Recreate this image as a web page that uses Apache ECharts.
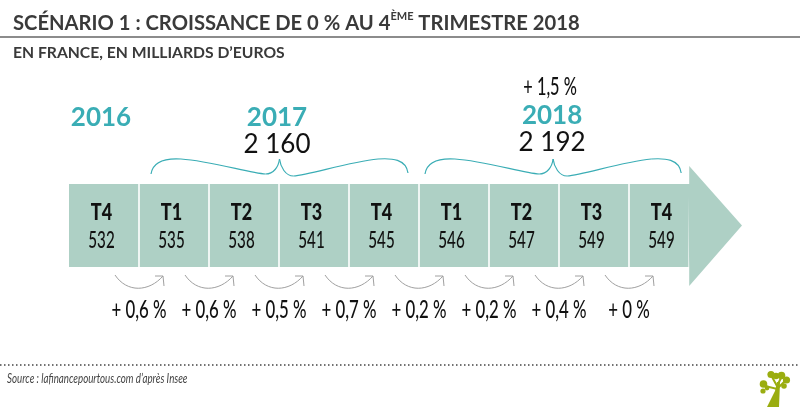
<!DOCTYPE html>
<html>
<head>
<meta charset="utf-8">
<style>
  html, body { margin: 0; padding: 0; background: #fff; }
  #chart { width: 800px; height: 407px; }
</style>
<script src="https://cdn.jsdelivr.net/npm/echarts@6/dist/echarts.min.js"></script>
</head>
<body>
<div id="chart"></div>
<script>
// données
const quarters = ['T4', 'T1', 'T2', 'T3', 'T4', 'T1', 'T2', 'T3', 'T4']
const gdpValues = [532, 535, 538, 541, 545, 546, 547, 549, 549]
const growthRates = ['0,6', '0,6', '0,5', '0,7', '0,2', '0,2', '0,4', '0']
const years = ['2016', '2017', '2018']
const yearTotals = ['', '2 160', '2 192']
const yearGrowth = ['', '', '+ 1,5 %']
const yearFirstQuarter = [0, 1, 5]
const yearLastQuarter = [0, 4, 8]

const BODY = '#aed0c5'
const TEAL = '#3aadb5'
const DARK = '#3a3a3a'
const GREEN = '#9aad10'
const LAST_EDGE = 8.36 // fin du corps de la flèche, en unités de trimestre

// pas de police étroite installée : on resserre le Lato avec scaleX
function text(str, x, y, font, fill, scaleX) {
  return {
    type: 'text', silent: true, x, y, scaleX: scaleX || 1,
    style: { text: str, x: 0, y: 0, font: font + ' Lato', fill: fill || '#111', align: 'center', verticalAlign: 'middle' }
  }
}

function renderCell(params, api) {
  const i = params.dataIndex
  const right = i === quarters.length - 1 ? LAST_EDGE : i + 0.5
  const a = api.coord([i - 0.5, 1])
  const b = api.coord([right, 0])
  const cx = api.coord([i, 0])[0] - 2.5
  const top = a[1]
  return {
    type: 'group',
    children: [
      { type: 'rect', shape: { x: a[0] + (i ? 0.8 : 0), y: top, width: b[0] - a[0] - (i ? 1.6 : 0.8), height: b[1] - top }, style: { fill: BODY } },
      text(quarters[i], cx, top + 29, '900 22px', '#111', 0.82),
      text(String(api.value(2)), cx, top + 57, '500 23px', '#111', 0.66)
    ]
  }
}

function renderHead(params, api) {
  const p = [[LAST_EDGE - 0.02, 1], [LAST_EDGE, 1], [LAST_EDGE, 1.217], [9.114, 0.5], [LAST_EDGE, -0.229], [LAST_EDGE, 0]].map(c => api.coord(c))
  return { type: 'polygon', shape: { points: p }, style: { fill: BODY } }
}

function renderGrowth(params, api) {
  const i = params.dataIndex
  const x = api.coord([i + 0.5, 0])[0]
  const y = api.coord([0, 0])[1]
  const sx = x - 24, ex = x + 24
  const line = { stroke: '#a0a0a0', lineWidth: 1, fill: null }
  return {
    type: 'group',
    children: [
      { type: 'bezierCurve', shape: { x1: sx, y1: y + 8, cpx1: x - 12, cpy1: y + 26, cpx2: x + 10, cpy2: y + 25, x2: ex, y2: y + 9 }, style: line },
      { type: 'polyline', shape: { points: [[ex - 8, y + 9], [ex, y + 9], [ex + 1, y + 19]] }, style: line },
      text('+ ' + growthRates[i] + ' %', x, y + 43, '500 24px', '#111', 0.7)
    ]
  }
}

function renderYear(params, api) {
  const i = params.dataIndex
  const first = yearFirstQuarter[i], last = yearLastQuarter[i]
  const right = last === quarters.length - 1 ? LAST_EDGE : last + 0.5
  const y0 = api.coord([0, 1])[1]
  const l = api.coord([first - 0.5, 0])[0]
  const r = api.coord([right, 0])[0]
  const cx = first === last ? (l + r) / 2 - 3 : (l + r) / 2 - 2
  const dy = i === 2 ? 2 : 0
  const children = [text(years[i], cx, y0 - 66 - dy, 'bold 26px', TEAL)]
  if (yearTotals[i]) children.push(text(yearTotals[i], cx, y0 - 39 - dy, '26px'))
  if (yearGrowth[i]) children.push(text(yearGrowth[i], cx - 2, y0 - 97, '500 24px', '#111', 0.68))
  if (first !== last) {
    // accolade au-dessus des trimestres de l'année
    const a = l + (i === 1 ? 12 : 6), b = r - (i === 1 ? 11 : 8)
    const t = y0 - 25, m = (a + b) / 2
    const brace = { stroke: TEAL, lineWidth: 1.2, fill: null }
    const seg = (x1, y1, cpx1, cpy1, cpx2, cpy2, x2, y2) => ({
      type: 'bezierCurve', shape: { x1, y1, cpx1, cpy1, cpx2, cpy2, x2, y2 }, style: brace
    })
    children.push(
      seg(a, y0 - 10, a + 2, t + 2, a + 14, t - 1, a + 30, t),
      seg(a + 30, t, a + 60, t + 2, m - 30, t + 14, m - 14, t + 15),
      seg(m - 14, t + 15, m - 6, t + 15, m - 1, t + 8, m, t),
      seg(m, t, m + 1, t + 8, m + 6, t + 17, m + 14, t + 17),
      seg(m + 14, t + 17, m + 30, t + 16, b - 60, t + 3, b - 30, t),
      seg(b - 30, t, b - 16, t - 1, b - 2, t, b, y0 - 11)
    )
  }
  return { type: 'group', children }
}

const chart = echarts.init(document.getElementById('chart'), null, { renderer: 'canvas' })
chart.setOption({
  animation: false,
  backgroundColor: '#fff',
  title: [
    {
      text: '{m|SCÉNARIO 1 : CROISSANCE DE 0 % AU 4}{s|ÈME}{m| TRIMESTRE 2018}',
      left: 13, top: 11, padding: 0,
      textStyle: { rich: {
        m: { fontFamily: 'Lato', fontWeight: 'bold', fontSize: 20.2, color: DARK, lineHeight: 24 },
        s: { fontFamily: 'Lato', fontWeight: 'bold', fontSize: 11, color: DARK, lineHeight: 24, verticalAlign: 'top' }
      } }
    },
    { text: 'EN FRANCE, EN MILLIARDS D’EUROS', left: 13, top: 45, padding: 0, textStyle: { fontFamily: 'Lato', fontWeight: 'bold', fontSize: 15.7, color: DARK } }
  ],
  grid: { left: 69, top: 184, width: 630, height: 83 },
  xAxis: { type: 'value', min: -0.5, max: 8.5, show: false },
  yAxis: { type: 'value', min: 0, max: 1, show: false },
  series: [
    { type: 'custom', renderItem: renderHead, data: [[0, 0]], silent: true },
    { type: 'custom', renderItem: renderCell, data: gdpValues.map((v, i) => [i, 0.5, v]), silent: true },
    { type: 'custom', renderItem: renderGrowth, data: growthRates.map((v, i) => [i + 0.5, 0]), silent: true },
    { type: 'custom', renderItem: renderYear, data: years.map((v, i) => [i, 1]), silent: true }
  ],
  graphic: [
    { type: 'line', shape: { x1: 0, y1: 37, x2: 800, y2: 37 }, style: { stroke: '#666', lineWidth: 1.5 } },
    { type: 'line', shape: { x1: 0, y1: 365, x2: 800, y2: 365 }, style: { stroke: '#444', lineWidth: 1.5, lineDash: [1.5, 2.5] } },
    { type: 'text', x: 7, y: 379, scaleX: 0.75, style: { text: 'Source : lafinancepourtous.com d’après Insee', font: 'italic 13px Lato', fill: '#444', verticalAlign: 'middle' } },
    // logo arbre
    { type: 'polygon', shape: { points: [[767, 407], [775, 391], [777, 382], [780, 382], [779, 407]] }, style: { fill: GREEN } },
    { type: 'polyline', shape: { points: [[765, 386], [777, 389], [786, 380]] }, style: { stroke: GREEN, lineWidth: 2, fill: null } },
    { type: 'polyline', shape: { points: [[771, 375], [777, 386], [782, 376]] }, style: { stroke: GREEN, lineWidth: 2, fill: null } },
    ...[[763.5, 384, 3.8], [763, 391, 2.6], [767, 388, 2.4], [771, 374.5, 3.6], [776, 376, 3.2], [781.5, 375.5, 3.8], [786.5, 380, 3.6], [784, 386, 2.8]].map(c => ({
      type: 'circle', shape: { cx: c[0], cy: c[1], r: c[2] }, style: { fill: GREEN }
    }))
  ]
})
</script>
</body>
</html>
